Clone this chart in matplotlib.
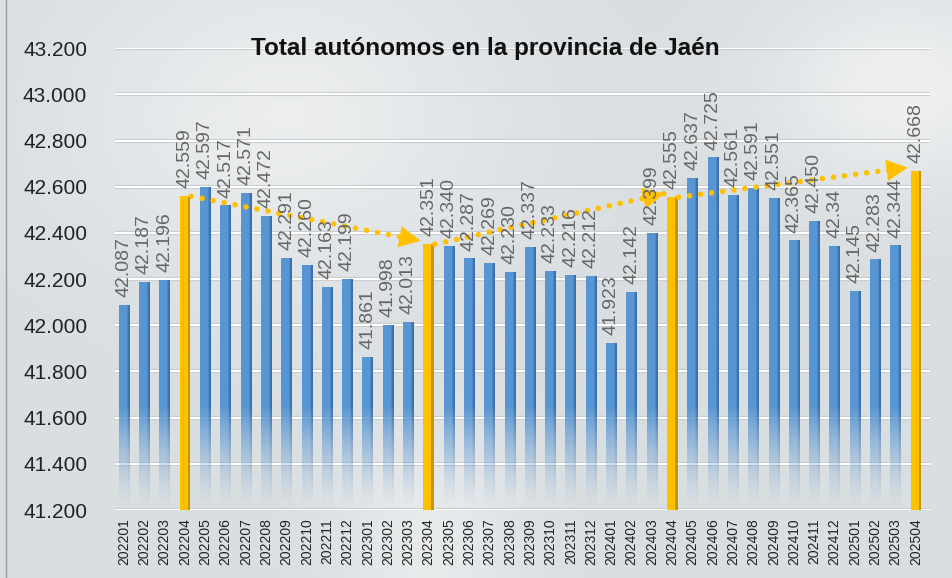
import numpy as np
import matplotlib.pyplot as plt
from matplotlib.colors import to_rgb

plt.rcParams['font.family'] = ['Liberation Sans Narrow', 'Liberation Sans', 'DejaVu Sans']

# data
months = ['202201', '202202', '202203', '202204', '202205', '202206', '202207', '202208',
          '202209', '202210', '202211', '202212', '202301', '202302', '202303', '202304',
          '202305', '202306', '202307', '202308', '202309', '202310', '202311', '202312',
          '202401', '202402', '202403', '202404', '202405', '202406', '202407', '202408',
          '202409', '202410', '202411', '202412', '202501', '202502', '202503', '202504']
values = [42.087, 42.187, 42.196, 42.559, 42.597, 42.517, 42.571, 42.472,
          42.291, 42.260, 42.163, 42.199, 41.861, 41.998, 42.013, 42.351,
          42.340, 42.287, 42.269, 42.230, 42.337, 42.233, 42.216, 42.212,
          41.923, 42.142, 42.399, 42.555, 42.637, 42.725, 42.561, 42.591,
          42.551, 42.365, 42.450, 42.340, 42.145, 42.283, 42.344, 42.668]
highlight = ['202204', '202304', '202404', '202504']
label_override = {'202412': '42.34'}
y_ticks = [41.2, 41.4, 41.6, 41.8, 42.0, 42.2, 42.4, 42.6, 42.8, 43.0, 43.2]
title = 'Total autónomos en la provincia de Jaén'

ymin, ymax = 41.2, 43.2
blue = np.array(to_rgb('#5796d3'))
blue_dark = np.array(to_rgb('#3a6ea8'))
yellow = '#ffc000'
yellow_dark = '#c99400'

fig = plt.figure(figsize=(9.52, 5.78), dpi=100)

# background
bg = fig.add_axes([0, 0, 1, 1], zorder=-10)
gx, gy = np.meshgrid(np.linspace(0, 1, 200), np.linspace(0, 1, 120))
base = np.array(to_rgb('#d9dee1'))
light = np.exp(-((gx - 0.3) ** 2 / 0.05 + (gy - 0.2) ** 2 / 0.08)) * 0.6
light += np.exp(-((gx - 0.95) ** 2 / 0.02 + (gy - 0.15) ** 2 / 0.03)) * 0.7
light += np.exp(-((gx - 0.45) ** 2 / 0.01 + (gy - 0.95) ** 2 / 0.05)) * 0.5
light = np.clip(light, 0, 1)
img_bg = base[None, None, :] * (1 - light[..., None]) + np.ones(3) * light[..., None] * 0.97
bg.imshow(img_bg, extent=(0, 1, 0, 1), aspect='auto', origin='upper', interpolation='bilinear')
bg.plot([0.006, 0.006], [0, 1], color='#9a9a9a', lw=1)
bg.set_xlim(0, 1)
bg.set_ylim(0, 1)
bg.axis('off')

ax = fig.add_axes([0.1208, 0.1176, 0.856, 0.799])
ax.patch.set_alpha(0)

# grid lines
for t in y_ticks:
    ax.axhline(t, color='#c4c9cc', lw=3, zorder=0)
    ax.axhline(t, color='white', lw=1.6, zorder=0.5)

w = 0.52
ny = 200
for i, (m, v) in enumerate(zip(months, values)):
    if m in highlight:
        ax.bar(i, v - ymin, bottom=ymin, width=w, color=yellow, zorder=2)
        ax.bar(i + w * 0.38, v - ymin, bottom=ymin, width=w * 0.24, color=yellow_dark, zorder=2.1)
    else:
        ys = np.linspace(v, ymin, ny)
        alpha = np.clip((ys - ymin) / 0.45, 0.03, 1) ** 1.5
        img = np.zeros((ny, 5, 4))
        img[:, :4, :3] = blue
        img[:, 4, :3] = blue_dark
        img[:, :, 3] = alpha[:, None]
        ax.imshow(img, extent=(i - w / 2, i + w / 2, ymin, v), aspect='auto',
                  interpolation='bilinear', zorder=2)
    lab = label_override.get(m, f'{v:.3f}')
    ax.annotate(lab, (i, v), xytext=(0, 6), textcoords='offset points', rotation=90,
                ha='center', va='bottom', fontsize=14, color='#666666', zorder=4,
                annotation_clip=False)

# dotted trend arrows between highlighted months
hi = [months.index(m) for m in highlight]
for a, b in zip(hi[:-1], hi[1:]):
    x0, y0 = a + 0.3, values[a]
    x1, y1 = b - 0.4, values[b] + 0.015
    ax.plot([x0, x1], [y0, y1], color=yellow, lw=4, linestyle=(0, (0.01, 2.0)),
            dash_capstyle='round', zorder=3)
    ax.annotate('', xy=(x1, y1), xytext=(x1 - (x1 - x0) * 0.03, y1 - (y1 - y0) * 0.03),
                arrowprops=dict(arrowstyle='-|>,head_length=0.9,head_width=0.45', color=yellow,
                                lw=0, mutation_scale=17, shrinkA=0, shrinkB=0), zorder=3)

ax.set_xlim(-0.45, len(months) - 1 + 0.69)
ax.set_ylim(ymin, ymax)
ax.set_xticks(range(len(months)))
ax.set_xticklabels(months, rotation=90, fontsize=10, color='#222222')
ax.set_yticks(y_ticks)
ax.set_yticklabels([f'{t:.3f}' for t in y_ticks], fontsize=15, color='#222222')
ax.tick_params(axis='both', length=0)
ax.tick_params(axis='y', pad=20)
ax.tick_params(axis='x', pad=6)
for s in ax.spines.values():
    s.set_visible(False)

fig.text(0.51, 0.916, title, ha='center', va='center', fontsize=17.5, fontweight='bold',
         color='#111111')

fig.savefig('out.png', dpi=100)
